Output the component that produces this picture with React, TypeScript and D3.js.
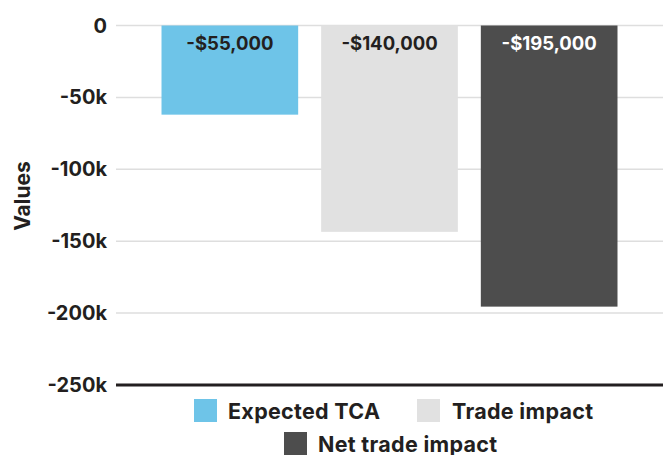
import React from "react";
import * as d3 from "d3";

const categories = ["Expected TCA", "Trade impact", "Net trade impact"];
const values = [-62000, -143500, -195500];
const valueLabels = ["-$55,000", "-$140,000", "-$195,000"];
const colors = ["#6EC4E8", "#E1E1E1", "#4D4D4D"];
const labelColors = ["#231F20", "#231F20", "#FFFFFF"];
const yTicks = [0, -50000, -100000, -150000, -200000, -250000];
const yTickLabels = ["0", "-50k", "-100k", "-150k", "-200k", "-250k"];
const yTitle = "Values";

const W = 663;
const H = 455;
const FONT = "Inter, 'Liberation Sans', Arial, sans-serif";

export default function App() {
  const x = d3
    .scaleBand<string>()
    .domain(categories)
    .range([116, 663])
    .paddingInner(0.144)
    .paddingOuter(0.285);
  const y = d3.scaleLinear().domain([-250000, 0]).range([385, 25.5]);

  const legendRows = [
    [
      { i: 0, sx: 194, tx: 228 },
      { i: 1, sx: 417, tx: 452 },
    ],
    [{ i: 2, sx: 284, tx: 318 }],
  ];
  const legendY = [399, 432];

  return (
    <svg
      width={W}
      height={H}
      style={{ position: "absolute", left: 0, top: 0, background: "#fff" }}
      fontFamily={FONT}
    >
      {yTicks.map((t, i) =>
        i === yTicks.length - 1 ? null : (
          <line
            key={"g" + i}
            x1={116}
            x2={W}
            y1={y(t)}
            y2={y(t)}
            stroke="#DEDEDE"
            strokeWidth={1.5}
          />
        )
      )}
      {yTicks.map((t, i) => (
        <text
          key={"t" + i}
          x={107}
          y={y(t)}
          dy="0.35em"
          textAnchor="end"
          fontSize={20}
          fontWeight={700}
          fill="#231F20"
        >
          {yTickLabels[i]}
        </text>
      ))}
      <text
        transform={`translate(30,196) rotate(-90)`}
        textAnchor="middle"
        fontSize={21}
        fontWeight={700}
        fill="#231F20"
      >
        {yTitle}
      </text>
      {categories.map((c, i) => (
        <g key={c}>
          <rect
            x={x(c)}
            y={y(0)}
            width={x.bandwidth()}
            height={y(values[i]) - y(0)}
            fill={colors[i]}
          />
          <text
            x={(x(c) as number) + x.bandwidth() / 2}
            y={y(0) + 24}
            textAnchor="middle"
            fontSize={18.5}
            fontWeight={700}
            fill={labelColors[i]}
          >
            {valueLabels[i]}
          </text>
        </g>
      ))}
      <line x1={116} x2={W} y1={385} y2={385} stroke="#231F20" strokeWidth={3} />
      {legendRows.map((row, r) =>
        row.map((it) => (
          <g key={"l" + it.i}>
            <rect x={it.sx} y={legendY[r]} width={23} height={23} fill={colors[it.i]} />
            <text
              x={it.tx}
              y={legendY[r] + 19.5}
              fontSize={21.5}
              fontWeight={700}
              letterSpacing={0.3}
              fill="#231F20"
            >
              {categories[it.i]}
            </text>
          </g>
        ))
      )}
    </svg>
  );
}
